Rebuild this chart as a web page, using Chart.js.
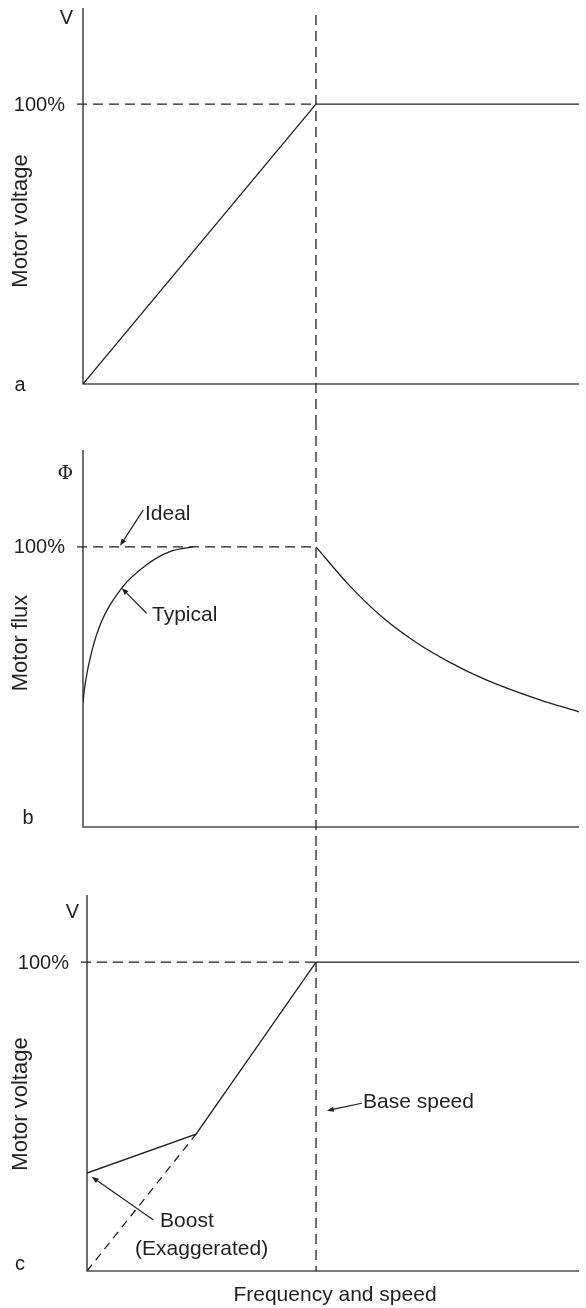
<!DOCTYPE html>
<html><head><meta charset="utf-8">
<script src="https://cdn.jsdelivr.net/npm/chart.js@4.4.1/dist/chart.umd.min.js"></script>
<style>
html,body{margin:0;padding:0;background:#fff;}
#wrap{position:relative;width:586px;height:1308px;overflow:hidden;}
canvas{position:absolute;left:0;}
</style></head><body>
<div id="wrap">
<canvas id="ca" width="586" height="420" style="top:0px"></canvas>
<canvas id="cb" width="586" height="430" style="top:420px"></canvas>
<canvas id="cc" width="586" height="458" style="top:850px"></canvas>
</div>
<script>
// ---------- DATA ----------
// Panel a: V/f characteristic (frequency in units of base speed, voltage in %)
const aFreq = [0, 1, 2.13];
const aVolt = [0, 100, 100];
// Panel b: motor flux (%)
const bTypFreq = [0, 0.009, 0.037, 0.08, 0.166, 0.273, 0.373, 0.473];
const bTypFlux = [44.6, 51.0, 62.5, 73.5, 85.3, 93.6, 98.3, 100];
const bWeakFreq = [1, 1.146, 1.289, 1.432, 1.575, 1.718, 1.961, 2.13];
const bWeakFlux = [100, 86.0, 74.6, 65.8, 58.8, 53.0, 45.4, 41.1];
// Panel c: voltage with boost (%)
const cBoostFreq = [0, 0.476, 1, 2.148];
const cBoostVolt = [31.7, 44.3, 100, 100];
const cIdealFreq = [0, 0.476];
const cIdealVolt = [0, 44.3];
// Tick / reference values
const refLevel = 100;      // the "100%" level
const baseSpeed = 1;       // base speed on the frequency axis

const INK = '#231f20';
const AXIS = '#4d4d4d';
const FONT = '"Liberation Sans", Arial, Helvetica, sans-serif';

function pts(xs, ys){ return xs.map((x,i)=>({x:x, y:ys[i]})); }

function arrow(ctx, x1,y1,x2,y2){
  ctx.save();
  ctx.strokeStyle = INK; ctx.fillStyle = INK; ctx.lineWidth = 1.2; ctx.setLineDash([]);
  const a = Math.atan2(y2-y1, x2-x1);
  const L = 7, W = 2.6;
  const bx = x2 - L*Math.cos(a), by = y2 - L*Math.sin(a);
  ctx.beginPath(); ctx.moveTo(x1,y1); ctx.lineTo(bx,by); ctx.stroke();
  ctx.beginPath();
  ctx.moveTo(x2,y2);
  ctx.lineTo(bx + W*Math.sin(a), by - W*Math.cos(a));
  ctx.lineTo(bx - W*Math.sin(a), by + W*Math.cos(a));
  ctx.closePath(); ctx.fill();
  ctx.restore();
}

const deco = {
  id: 'deco',
  beforeDatasetsDraw(chart, args, o){
    const ctx = chart.ctx, ca = chart.chartArea;
    const xs = chart.scales.x, ys = chart.scales.y;
    ctx.save();
    // axes
    ctx.strokeStyle = AXIS; ctx.lineWidth = 1.6; ctx.setLineDash([]);
    ctx.beginPath();
    ctx.moveTo(ca.left, ca.top); ctx.lineTo(ca.left, ca.bottom); ctx.lineTo(ca.right, ca.bottom);
    ctx.stroke();
    // dashed reference lines
    ctx.strokeStyle = INK; ctx.lineWidth = 1.3; ctx.setLineDash([10,6]);
    const yRef = ys.getPixelForValue(refLevel);
    const xBase = xs.getPixelForValue(baseSpeed);
    ctx.beginPath(); ctx.moveTo(ca.left-6, yRef); ctx.lineTo(xBase, yRef); ctx.stroke();
    ctx.beginPath(); ctx.moveTo(xBase, o.vTop); ctx.lineTo(xBase, o.vBottom === 'axis' ? ca.bottom : chart.height); ctx.stroke();
    ctx.restore();
  },
  afterDraw(chart, args, o){
    const ctx = chart.ctx, ca = chart.chartArea;
    const xs = chart.scales.x, ys = chart.scales.y;
    ctx.save();
    ctx.fillStyle = INK;
    ctx.font = '20px ' + FONT;
    ctx.textAlign = 'right'; ctx.textBaseline = 'middle';
    ctx.fillText('100%', ca.left - 18, ys.getPixelForValue(refLevel) + 1);
    // unit symbol
    if (o.unit){
      ctx.font = o.unitFont;
      ctx.fillText(o.unit, ca.left - o.unitGap, ys.getPixelForValue(o.unitY));
    }
    // panel letter
    ctx.font = '20px ' + FONT; ctx.textAlign = 'center';
    ctx.fillText(o.letter, o.letterX, o.letterY);
    // axis title (rotated)
    ctx.save();
    ctx.translate(21, o.titleY);
    ctx.rotate(-Math.PI/2);
    ctx.textAlign = 'center'; ctx.textBaseline = 'middle';
    ctx.font = '22px ' + FONT;
    ctx.fillText(o.title, 0, 0);
    ctx.restore();
    // notes
    ctx.font = '21px ' + FONT; ctx.textAlign = 'left'; ctx.textBaseline = 'middle';
    (o.notes || []).forEach(n => {
      ctx.fillText(n.text, xs.getPixelForValue(n.x), ys.getPixelForValue(n.y));
    });
    (o.arrows || []).forEach(a => {
      arrow(ctx, xs.getPixelForValue(a.x1), ys.getPixelForValue(a.y1), xs.getPixelForValue(a.x2), ys.getPixelForValue(a.y2));
    });
    if (o.xTitle){
      ctx.textAlign = 'center';
      ctx.fillText(o.xTitle, (ca.left+ca.right)/2 + 2, ca.bottom + 24);
    }
    ctx.restore();
  }
};

function lineDs(data, dash){
  return { data: data, showLine: true, borderColor: INK, borderWidth: 1.3, pointRadius: 0,
           borderDash: dash || [], fill: false, tension: 0 };
}

function makeChart(id, datasets, xMax, yMax, pad, decoOpts){
  return new Chart(document.getElementById(id), {
    type: 'scatter',
    data: { datasets: datasets },
    options: {
      responsive: false, animation: false,
      layout: { padding: pad },
      scales: {
        x: { type: 'linear', min: 0, max: xMax, display: false },
        y: { type: 'linear', min: 0, max: yMax, display: false }
      },
      plugins: { legend: { display: false }, tooltip: { enabled: false }, deco: decoOpts },
      elements: { line: { borderCapStyle: 'butt' } }
    },
    plugins: [deco]
  });
}

// Panel a
makeChart('ca', [ lineDs(pts(aFreq, aVolt)) ], 2.129, 134.3,
  { left: 83, right: 7, top: 8, bottom: 36 },
  { vTop: 15, vBottom: 'canvas', unit: 'V', unitFont: '20px ' + FONT, unitGap: 10, unitY: 130.5,
    letter: 'a', letterX: 20, letterY: 385, title: 'Motor voltage', titleY: 221 });

// Panel b
const typDs = lineDs(pts(bTypFreq, bTypFlux)); typDs.cubicInterpolationMode = 'monotone';
const weakDs = lineDs(pts(bWeakFreq, bWeakFlux)); weakDs.cubicInterpolationMode = 'monotone';
makeChart('cb', [ typDs, weakDs ], 2.129, 134.6,
  { left: 83, right: 7, top: 30, bottom: 23 },
  { vTop: 0, vBottom: 'canvas', unit: '\u03A6', unitFont: '19px "DejaVu Serif", "Liberation Serif", serif', unitGap: 10, unitY: 126.1,
    letter: 'b', letterX: 28, letterY: 398, title: 'Motor flux', titleY: 223,
    notes: [ {text:'Ideal', x:0.266, y:111.6}, {text:'Typical', x:0.296, y:75.6} ],
    arrows: [ {x1:0.259, y1:113.2, x2:0.159, y2:100.4}, {x1:0.273, y1:76.3, x2:0.166, y2:85.3} ] });

// Panel c
makeChart('cc', [ lineDs(pts(cBoostFreq, cBoostVolt)), lineDs(pts(cIdealFreq, cIdealVolt), [8,6]) ], 2.148, 121.7,
  { left: 87, right: 7, top: 45, bottom: 37 },
  { vTop: 0, vBottom: 'axis', unit: 'V', unitFont: '20px ' + FONT, unitGap: 8, unitY: 116.2,
    letter: 'c', letterX: 20, letterY: 414, title: 'Motor voltage', titleY: 254,
    notes: [ {text:'Boost', x:0.319, y:16.0}, {text:'(Exaggerated)', x:0.210, y:7.2}, {text:'Base speed', x:1.205, y:54.6} ],
    arrows: [ {x1:0.290, y1:16.5, x2:0.0205, y2:30.5}, {x1:1.2, y1:54.3, x2:1.047, y2:51.9} ],
    xTitle: 'Frequency and speed' });
</script>
</body></html>
